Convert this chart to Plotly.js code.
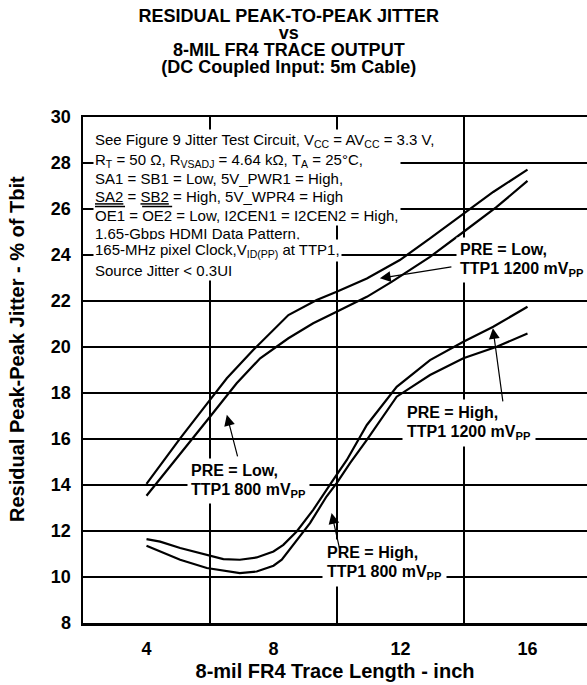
<!DOCTYPE html>
<html><head><meta charset="utf-8">
<script src="https://cdn.plot.ly/plotly-3.0.1.min.js"></script>
<style>html,body{margin:0;padding:0;background:#fff;overflow:hidden}</style>
</head><body><div id="chart" style="width:587px;height:685px"></div>
<script>
const FONT = 'Liberation Sans, Arial, Helvetica, sans-serif';

// x tick labels (inch)
const xTickVals = [4, 8, 12, 16];
const xTickText = ['4', '8', '12', '16'];

// PRE = Low, TTP1 1200 mVpp
const preLow1200X = [4, 5.06, 6.0, 6.53, 7.36, 8.0, 8.47, 9.36, 9.99, 10.94, 11.98, 12.93, 13.98, 14.92, 16];
const preLow1200Y = [14.05, 16.03, 17.70, 18.64, 19.87, 20.74, 21.39, 22.04, 22.40, 22.98, 23.78, 24.72, 25.80, 26.74, 27.71];

// PRE = Low, TTP1 800 mVpp
const preLow800X = [4, 5.06, 6.0, 6.84, 7.58, 8.47, 9.25, 9.94, 10.94, 11.72, 12.93, 13.98, 15.03, 16];
const preLow800Y = [13.53, 15.38, 16.97, 18.42, 19.51, 20.38, 21.03, 21.50, 22.18, 22.83, 23.92, 25.00, 26.09, 27.22];

// PRE = High, TTP1 1200 mVpp
const preHigh1200X = [4, 4.43, 5.06, 5.90, 6.42, 6.94, 7.47, 8.0, 8.31, 8.73, 9.25, 9.88, 10.31, 10.94, 11.88, 12.93, 13.98, 14.92, 16];
const preHigh1200Y = [11.65, 11.54, 11.26, 10.97, 10.78, 10.75, 10.85, 11.11, 11.40, 11.98, 12.92, 14.22, 15.09, 16.61, 18.27, 19.43, 20.23, 20.88, 21.75];

// PRE = High, TTP1 800 mVpp
const preHigh800X = [4, 4.43, 5.06, 5.90, 6.53, 6.94, 7.47, 8.0, 8.26, 8.62, 9.15, 9.67, 9.99, 10.41, 10.94, 11.88, 12.93, 13.98, 15.03, 16];
const preHigh800Y = [11.36, 11.11, 10.75, 10.39, 10.24, 10.17, 10.24, 10.49, 10.75, 11.40, 12.34, 13.50, 14.08, 14.95, 15.96, 17.84, 18.78, 19.51, 20.01, 20.59];

const seriesNames = ['PRE = Low, TTP1 1200 mVpp', 'PRE = Low, TTP1 800 mVpp', 'PRE = High, TTP1 1200 mVpp', 'PRE = High, TTP1 800 mVpp'];

// Conditions text block
const condLine1 = 'See Figure 9 Jitter Test Circuit, V<sub>CC</sub> = AV<sub>CC</sub> = 3.3 V,';
const condBlock = [
  'R<sub>T</sub> = 50 Ω, R<sub>VSADJ</sub> = 4.64 kΩ, T<sub>A</sub> = 25°C,',
  'SA1 = SB1 = Low, 5V_PWR1 = High,',
  '<u>SA2</u> = <u>SB2</u> = High, 5V_WPR4 = High',
  '<span style="text-decoration:overline">OE1</span> = <span style="text-decoration:overline">OE2</span> = Low, I2CEN1 = I2CEN2 = High,'
];
const condLine6 = '1.65-Gbps HDMI Data Pattern,';
const condLine7 = '165-MHz pixel Clock,V<sub>ID(PP)</sub> at TTP1,';
const condLine8 = 'Source Jitter &lt; 0.3UI';

const labelLow1200 = ['PRE = Low,', 'TTP1 1200 mV<sub>PP</sub>'];
const labelLow800 = ['PRE = Low,', 'TTP1 800 mV<sub>PP</sub>'];
const labelHigh1200 = ['PRE = High,', 'TTP1 1200 mV<sub>PP</sub>'];
const labelHigh800 = ['PRE = High,', 'TTP1 800 mV<sub>PP</sub>'];

const titleLines = ['RESIDUAL PEAK-TO-PEAK JITTER', 'vs', '8-MIL FR4 TRACE OUTPUT', '(DC Coupled Input: 5m Cable)'];
const xTitle = '8-mil FR4 Trace Length - inch';
const yTitle = 'Residual Peak-Peak Jitter - % of Tbit';

function mk(x, y, name) {
  return {x: x, y: y, name: name, type: 'scatter', mode: 'lines',
    line: {color: '#000', width: 2.2, shape: 'linear'}, hoverinfo: 'skip'};
}
const data = [
  mk(preLow1200X, preLow1200Y, seriesNames[0]),
  mk(preLow800X, preLow800Y, seriesNames[1]),
  mk(preHigh1200X, preHigh1200Y, seriesNames[2]),
  mk(preHigh800X, preHigh800Y, seriesNames[3])
];

function block(lines, px) {
  return lines.map(l => '<span style="font-size:' + px + 'px">' + l + '</span>').join('<br>');
}
function textAnn(x, y, text, size, bold, pad) {
  return {x: x, y: y, xref: 'x', yref: 'y', xanchor: 'left', yanchor: 'middle', align: 'left',
    text: text, showarrow: false, bgcolor: '#fff', borderpad: pad,
    font: {family: FONT, size: size, color: '#000', weight: bold ? 'bold' : 'normal'}};
}
function arrowAnn(hx, hy, tx, ty) {
  return {x: hx, y: hy, ax: tx, ay: ty, xref: 'x', yref: 'y', axref: 'x', ayref: 'y',
    text: '', showarrow: true, arrowhead: 2, arrowsize: 1.8, arrowwidth: 1.2,
    arrowcolor: '#000', standoff: 0, startstandoff: 0};
}

// plot area in pixels: left 83, right 587, top 117, bottom 623
const annotations = [
  textAnn(2.32, 28.99, condLine1, 15, false, 1),
  textAnn(2.32, 26.92, block(condBlock, 15), 14.3, false, 1),
  textAnn(2.32, 24.93, condLine6, 15, false, 1),
  textAnn(2.32, 24.21, condLine7, 15, false, 1),
  textAnn(2.32, 23.34, condLine8, 15, false, 1),
  textAnn(13.75, 23.78, block(labelLow1200, 16), 14.4, true, 3),
  textAnn(5.28, 14.18, block(labelLow800, 16), 14.4, true, 3),
  textAnn(12.05, 16.70, block(labelHigh1200, 16), 14.4, true, 4),
  textAnn(9.52, 10.62, block(labelHigh800, 16), 14.4, true, 4),
  arrowAnn(11.35, 22.99, 13.65, 23.49),
  arrowAnn(6.53, 17.05, 6.88, 15.18),
  arrowAnn(14.91, 20.82, 15.23, 17.57),
  arrowAnn(9.83, 12.78, 10.09, 11.18),
  {x: (17 - 83) / 504, y: (623 - 349) / 506, xref: 'paper', yref: 'paper', xanchor: 'center', yanchor: 'middle',
    text: yTitle, textangle: -90, showarrow: false,
    font: {family: FONT, size: 20, color: '#000', weight: 'bold'}}
];

const layout = {
  width: 587, height: 685,
  margin: {l: 83, r: 0, t: 117, b: 62},
  paper_bgcolor: '#fff', plot_bgcolor: '#fff',
  showlegend: false,
  font: {family: FONT, color: '#000'},
  title: {
    text: block(titleLines, 18),
    font: {family: FONT, size: 13.1, color: '#000', weight: 'bold'},
    x: 0.492, xref: 'container', xanchor: 'center',
    y: 0.968, yref: 'container', yanchor: 'top'
  },
  xaxis: {
    range: [2, 17.874], fixedrange: true,
    tickmode: 'array', tickvals: xTickVals, ticktext: xTickText,
    showgrid: false, ticks: '', zeroline: false,
    minor: {tick0: 2, dtick: 4, showgrid: true, gridcolor: '#000', gridwidth: 1.2, ticks: ''},
    showline: true, linecolor: '#000', linewidth: 2.5, mirror: true,
    tickfont: {family: FONT, size: 18, color: '#000', weight: 'bold'},
    ticklabelstandoff: 8,
    title: {text: xTitle, font: {family: FONT, size: 20, color: '#000', weight: 'bold'}, standoff: 6}
  },
  yaxis: {
    range: [8, 30], fixedrange: true, dtick: 2, tick0: 8,
    showgrid: true, gridcolor: '#000', gridwidth: 1.2, ticks: '', zeroline: false,
    showline: true, linecolor: '#000', linewidth: 2.5, mirror: false,
    tickfont: {family: FONT, size: 18, color: '#000', weight: 'bold'},
    ticklabelstandoff: 6
  },
  annotations: annotations
};

Plotly.newPlot('chart', data, layout, {staticPlot: true, displayModeBar: false});
</script></body></html>
